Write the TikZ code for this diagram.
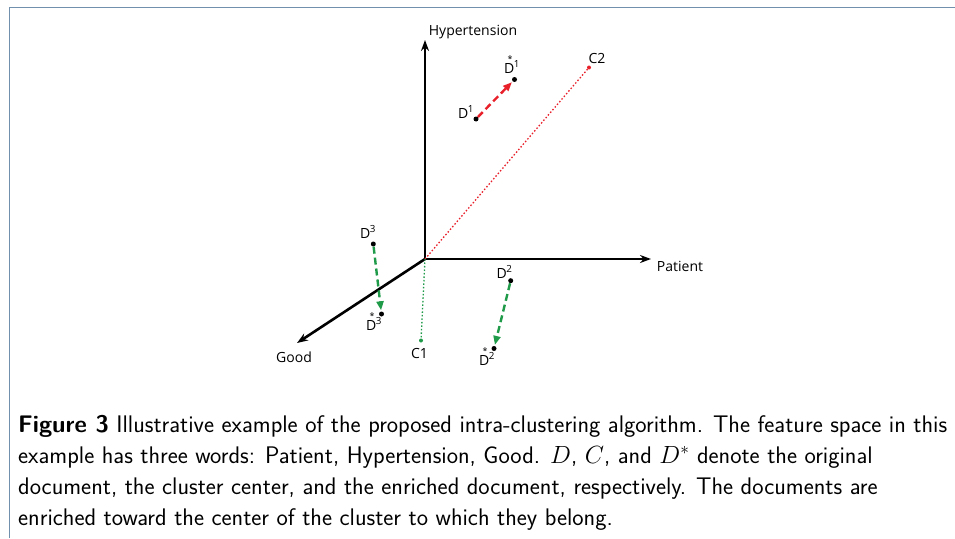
\documentclass[tikz,border=0pt]{standalone}
\usepackage{fontspec}
\newfontfamily\lblfont{Open Sans}
\usetikzlibrary{arrows.meta}
\definecolor{frameblue}{HTML}{7090AE}
\definecolor{cred}{HTML}{E8202A}
\definecolor{cgreen}{HTML}{1E9A48}
\newcommand{\dsup}[1]{D\textsuperscript{\kern-0.05em#1}}
\newcommand{\dstarlbl}[1]{\makebox[0pt][l]{\raisebox{0.78em}{\kern0.25em\fontsize{9}{9}\selectfont*}}D\textsuperscript{\kern-0.05em#1}}
\begin{document}
\begin{tikzpicture}[x=1pt,y=-1pt,
  lbl/.style={font=\lblfont\fontsize{14}{16}\selectfont, inner sep=0pt},
  dot/.style={circle, fill=black, inner sep=0pt, minimum size=5pt},
  rdot/.style={circle, fill=cred, inner sep=0pt, minimum size=4pt},
  gdot/.style={circle, fill=cgreen, inner sep=0pt, minimum size=4pt},
  axis/.style={line width=2.6pt, -{Stealth[length=11pt,width=8pt]}},
  reddash/.style={cred, line width=2.4pt, dash pattern=on 7pt off 4pt, -{Triangle[length=9pt,width=7pt]}, shorten >=1pt},
  greendash/.style={cgreen, line width=2.4pt, dash pattern=on 7pt off 4pt, -{Triangle[length=9pt,width=7pt]}, shorten >=1pt},
  reddot/.style={cred, line width=1.3pt, dash pattern=on 1.5pt off 2pt},
  greendot/.style={cgreen, line width=1.3pt, dash pattern=on 1.5pt off 2pt},
  captext/.style={font=\sffamily\fontsize{24}{31}\selectfont, anchor=base west, inner sep=0pt}
]
\useasboundingbox (0,0) rectangle (955,538);
% frame
\draw[frameblue, line width=1.8pt] (9.5,538) -- (9.5,7.5) -- (955,7.5);

% axes
\coordinate (o) at (425,259);
\coordinate (hy) at (425,40);
\coordinate (pa) at (651,259);
\coordinate (go) at (297,343);
\draw[axis] (o) -- (hy);
\draw[axis] (o) -- (pa);
\draw[axis] (o) -- (go);
\node[lbl] (hylbl) at (473,32) {Hypertension};
\node[lbl] (palbl) at (680,266) {Patient};
\node[lbl] (golbl) at (294,357) {Good};

% centers
\node[rdot] (c2) at (589,67.5) {};
\node[lbl] (c2lbl) at (597,58) {C2};
\node[gdot] (c1) at (421,340.5) {};
\node[lbl] (c1lbl) at (419.5,353) {C1};
\draw[reddot] (o) -- (c2);
\draw[greendot] (o) -- (c1);

% documents
\node[dot] (d1) at (476,119) {};
\node[dot] (d1s) at (514.5,79.5) {};
\node[dot] (d3) at (373.3,244) {};
\node[dot] (d3s) at (381.5,314) {};
\node[dot] (d2) at (510.7,280.7) {};
\node[dot] (d2s) at (494,348.5) {};

\node[lbl] (d1lbl) at (466,112) {\dsup{1}};
\node[lbl, anchor=base] (d1slbl) at (512,73) {\dstarlbl{1}};
\node[lbl] (d3lbl) at (368,232) {\dsup{3}};
\node[lbl, anchor=base] (d3slbl) at (374,330) {\dstarlbl{3}};
\node[lbl] (d2lbl) at (504.5,272) {\dsup{2}};
\node[lbl, anchor=base] (d2slbl) at (487,365) {\dstarlbl{2}};

\draw[reddash] (d1) -- (d1s);
\draw[greendash] (d3) -- (d3s);
\draw[greendash] (d2) -- (d2s);

% caption
\node[captext] (l1) at (18,432.5) {\textbf{Figure 3} Illustrative example of the proposed intra-clustering algorithm. The feature space in this};
\node[captext] (l2) at (18,463.5) {example has three words: Patient, Hypertension, Good. $D$, $C$, and $D^*$ denote the original};
\node[captext] (l3) at (18,494.5) {document, the cluster center, and the enriched document, respectively. The documents are};
\node[captext] (l4) at (18,525.5) {enriched toward the center of the cluster to which they belong.};
\end{tikzpicture}
\end{document}
